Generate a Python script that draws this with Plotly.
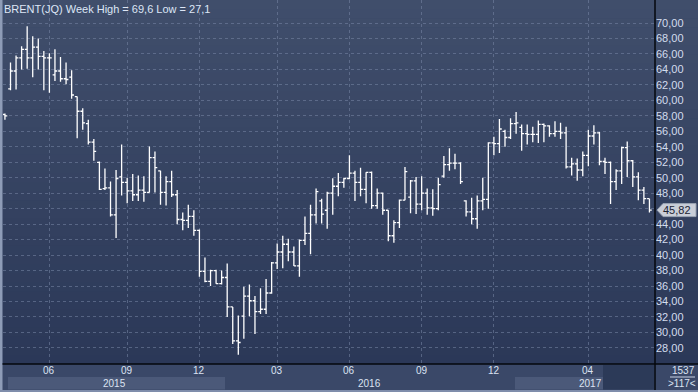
import plotly.graph_objects as go

# ---- data (weekly OHLC) ----
opens = [58.2, 61.5, 63.8, 65.5, 66.6, 65.5, 66.9, 65.7, 65.5, 63.3,
         63.8, 62.8, 63.0, 60.5, 58.6, 57.0, 54.6, 52.0, 48.6, 48.7,
         45.2, 50.1, 49.4, 48.3, 47.8, 48.4, 48.1, 52.6, 50.9, 48.1,
         49.5, 47.8, 44.6, 44.5, 45.0, 43.2, 37.9, 36.6, 38.0, 36.3,
         37.1, 33.3, 28.9, 32.1, 34.7, 34.1, 32.7, 33.0, 35.1, 39.0,
         40.4, 41.4, 40.4, 38.6, 41.9, 42.8, 45.2, 47.0, 45.8, 48.0,
         48.9, 49.4, 49.9, 50.6, 49.4, 48.5, 50.7, 46.4, 48.0, 45.8,
         42.5, 44.2, 47.1, 47.5, 49.6, 46.6, 48.0, 46.1, 46.0, 50.2,
         51.7, 51.9, 51.9, 47.0, 45.6, 44.7, 47.0, 47.2, 54.5, 54.4,
         56.0, 55.2, 57.0, 56.5, 55.7, 55.6, 55.6, 56.9, 56.7, 55.7,
         56.0, 55.8, 51.4, 51.8, 51.0, 52.9, 55.4, 55.8, 52.1, 52.0,
         49.5, 50.9, 53.9, 52.2, 50.1, 48.4, 47.3]
highs = [58.3, 64.9, 65.8, 67.0, 69.6, 68.3, 68.0, 66.4, 66.1, 66.6,
         65.6, 64.9, 63.9, 60.5, 59.0, 57.5, 55.0, 52.1, 51.2, 49.5,
         51.0, 54.3, 50.0, 50.5, 50.3, 50.2, 54.05, 53.4, 50.9, 50.2,
         50.9, 48.4, 45.5, 46.5, 45.8, 43.3, 39.7, 38.1, 38.1, 38.0,
         38.9, 33.3, 32.2, 35.9, 36.2, 34.7, 35.7, 36.9, 39.1, 41.5,
         42.5, 42.1, 41.1, 42.0, 45.0, 46.5, 48.6, 47.3, 48.2, 49.95,
         50.6, 50.0, 52.9, 50.9, 51.3, 50.7, 50.8, 48.6, 48.1, 45.8,
         44.5, 47.2, 51.4, 49.7, 50.1, 50.2, 48.6, 48.5, 50.0, 52.8,
         53.8, 53.1, 52.0, 47.1, 47.4, 47.7, 50.0, 54.6, 55.3, 57.6,
         56.2, 57.7, 58.5, 56.9, 56.9, 56.6, 57.4, 57.0, 56.8, 57.3,
         57.1, 56.6, 52.6, 52.5, 53.4, 56.2, 56.8, 55.9, 52.6, 52.1,
         51.1, 54.0, 54.7, 52.3, 50.7, 48.8, 47.3]
lows = [57.5, 61.3, 61.4, 64.0, 64.1, 63.0, 64.0, 61.3, 61.0, 62.5,
        62.4, 62.1, 60.2, 55.1, 56.2, 54.3, 52.2, 48.4, 48.4, 45.0,
        42.2, 47.7, 46.7, 47.0, 47.0, 46.9, 48.1, 48.1, 46.5, 46.4,
        47.5, 44.0, 43.2, 43.5, 42.5, 37.2, 36.5, 36.0, 36.3, 36.2,
        32.0, 28.5, 27.1, 29.2, 32.1, 29.8, 32.4, 32.4, 35.0, 38.2,
        38.3, 39.2, 38.6, 37.2, 41.3, 40.1, 44.1, 44.1, 43.4, 45.2,
        47.6, 48.7, 49.8, 47.0, 47.6, 46.7, 46.0, 46.0, 45.2, 41.8,
        41.6, 43.5, 47.1, 45.4, 45.3, 45.8, 45.2, 45.1, 45.8, 50.0,
        50.9, 51.1, 49.2, 45.0, 44.0, 43.4, 45.8, 46.0, 52.9, 53.2,
        54.0, 55.0, 55.7, 53.5, 54.3, 54.6, 54.5, 54.6, 55.3, 55.3,
        55.0, 51.2, 50.3, 49.6, 50.2, 51.5, 54.3, 51.6, 50.5, 46.6,
        48.4, 49.2, 50.1, 48.8, 47.1, 46.6, 45.5]
closes = [58.0, 63.8, 65.5, 66.6, 65.5, 66.9, 65.7, 65.5, 65.5, 63.8,
          62.8, 62.7, 60.7, 58.6, 57.1, 54.6, 53.4, 48.5, 48.7, 45.2,
          49.9, 49.4, 48.3, 47.8, 48.4, 48.1, 52.6, 51.3, 48.1, 49.5,
          47.8, 44.6, 44.5, 45.0, 43.2, 37.9, 36.6, 38.0, 36.3, 37.1,
          33.3, 28.9, 28.7, 34.7, 34.1, 32.7, 33.0, 35.1, 39.0, 40.4,
          41.4, 40.4, 38.6, 41.9, 42.8, 45.2, 48.2, 45.3, 48.0, 48.9,
          49.4, 49.9, 50.6, 49.4, 48.5, 50.7, 46.4, 48.0, 45.8, 42.5,
          44.2, 47.1, 50.8, 49.6, 46.6, 48.0, 46.1, 46.0, 49.1, 51.7,
          51.9, 51.9, 49.5, 45.6, 44.7, 47.0, 47.2, 54.5, 54.4, 56.3,
          55.2, 57.0, 57.1, 55.7, 55.6, 55.6, 56.9, 56.7, 55.7, 56.0,
          55.8, 51.4, 51.8, 51.0, 52.9, 55.4, 55.8, 52.1, 52.0, 49.5,
          50.9, 53.9, 52.2, 50.1, 48.4, 47.3, 45.82]
weeks = list(range(len(closes)))

y_ticks = [28, 30, 32, 34, 36, 38, 40, 42, 44, 46, 48, 50, 52, 54, 56, 58,
           60, 62, 64, 66, 68, 70]
month_pos = [8, 22, 35, 49, 62, 75, 88, 105]
month_labels = ["06", "09", "12", "03", "06", "09", "12", "04"]
year_labels = ["2015", "2016", "2017"]
year_pos = [19.7, 65.6, 105.4]
title_text = "BRENT(JQ) Week High = 69,6 Low = 27,1"
last_label = "45,82"
last_value = 45.82
corner_top = "1537"
corner_bottom = ">117<"

# ---- geometry helpers (pixels -> paper) ----
W, H = 698, 392
ML, MR, MT, MB = 3, 43, 0, 28
PW, PH = W - ML - MR, H - MT - MB


def px(x):
    return (x - ML) / PW


def py(y):
    return (H - MB - y) / PH


FONT = "Liberation Sans, Arial, sans-serif"

fig = go.Figure()
fig.add_trace(go.Ohlc(
    x=weeks, open=opens, high=highs, low=lows, close=closes,
    increasing=dict(line=dict(color="#ffffff", width=1.3)),
    decreasing=dict(line=dict(color="#ffffff", width=1.3)),
    tickwidth=0.42, hoverinfo="skip", showlegend=False,
))

shapes = []
# vertical gradient background (whole window)
n = 40
top = (64, 78, 107)
bot = (43, 56, 88)
for k in range(n):
    t = k / (n - 1)
    c = tuple(int(round(top[j] + (bot[j] - top[j]) * t)) for j in range(3))
    y0 = k * (H - MB) / n
    y1 = (k + 1) * (H - MB) / n + 0.5
    shapes.append(dict(type="rect", xref="paper", yref="paper",
                       x0=px(0), x1=px(W), y0=py(y1), y1=py(y0),
                       fillcolor="rgb(%d,%d,%d)" % c, line=dict(width=0),
                       layer="below"))
# bottom axis bar
shapes.append(dict(type="rect", xref="paper", yref="paper",
                   x0=px(0), x1=px(W), y0=py(H), y1=py(364),
                   fillcolor="#3a4868", line=dict(width=0), layer="below"))
# year bands
for a, b in [(8, 225), (515, 603)]:
    shapes.append(dict(type="rect", xref="paper", yref="paper",
                       x0=px(a), x1=px(b), y0=py(389.5), y1=py(377),
                       fillcolor="#4b5979", line=dict(width=0), layer="below"))
# dark box at the right end of the time bar
shapes.append(dict(type="rect", xref="paper", yref="paper",
                   x0=px(603), x1=px(654), y0=py(389.5), y1=py(365),
                   fillcolor="#2c3a58", line=dict(width=0), layer="below"))
# left and bottom window borders
shapes.append(dict(type="rect", xref="paper", yref="paper",
                   x0=px(0), x1=px(2.5), y0=py(H), y1=py(0),
                   fillcolor="#8e9cb7", line=dict(width=0), layer="above"))
shapes.append(dict(type="rect", xref="paper", yref="paper",
                   x0=px(0), x1=px(W), y0=py(H), y1=py(390),
                   fillcolor="#7f8dab", line=dict(width=0), layer="above"))
# separators
shapes.append(dict(type="line", xref="paper", yref="paper",
                   x0=px(655), x1=px(655), y0=py(390), y1=py(0),
                   line=dict(color="#05070c", width=1.5), layer="above"))
shapes.append(dict(type="line", xref="paper", yref="paper",
                   x0=px(2.5), x1=px(W), y0=py(364), y1=py(364),
                   line=dict(color="#05070c", width=1.5), layer="above"))
# corner divider
shapes.append(dict(type="line", xref="paper", yref="paper",
                   x0=px(670), x1=px(695), y0=py(377), y1=py(377),
                   line=dict(color="#c8d2e4", width=1), layer="above"))
# last-value marker
hh = 6.5 / (PH / (72.98 - 25.92))
shapes.append(dict(type="path", xref="paper", yref="y",
                   path="M %f,%f L %f,%f L %f,%f L %f,%f L %f,%f Z" % (
                       px(657), last_value,
                       px(663), last_value + hh,
                       px(696), last_value + hh,
                       px(696), last_value - hh,
                       px(663), last_value - hh),
                   fillcolor="#c9ced8", line=dict(color="#9aa3b3", width=1),
                   layer="above"))

annotations = []
annotations.append(dict(text=title_text, xref="paper", yref="paper",
                        x=px(2), y=py(1), xanchor="left", yanchor="top",
                        showarrow=False,
                        font=dict(family=FONT, size=11, color="#dde6f6")))
for pos, lab in zip(month_pos, month_labels):
    annotations.append(dict(text=lab, xref="x", yref="paper", x=pos,
                            y=py(370.5), xanchor="center", yanchor="middle",
                            showarrow=False,
                            font=dict(family=FONT, size=10, color="#dbe3f2")))
for pos, lab in zip(year_pos, year_labels):
    annotations.append(dict(text=lab, xref="x", yref="paper", x=pos,
                            y=py(383), xanchor="center", yanchor="middle",
                            showarrow=False,
                            font=dict(family=FONT, size=10, color="#dbe3f2")))
annotations.append(dict(text=corner_top, xref="paper", yref="paper",
                        x=px(683), y=py(370), xanchor="center",
                        yanchor="middle", showarrow=False,
                        font=dict(family=FONT, size=10, color="#dbe3f2")))
annotations.append(dict(text=corner_bottom, xref="paper", yref="paper",
                        x=px(682), y=py(383.5), xanchor="center",
                        yanchor="middle", showarrow=False,
                        font=dict(family=FONT, size=10, color="#dbe3f2")))
annotations.append(dict(text=last_label, xref="paper", yref="y",
                        x=px(661), y=last_value, xanchor="left",
                        yanchor="middle", showarrow=False,
                        font=dict(family=FONT, size=11, color="#1c2333")))

tick_text = [("%.2f" % v).replace(".", ",") if v != 46 else "" for v in y_ticks]

fig.update_layout(
    width=W, height=H,
    margin=dict(l=ML, r=MR, t=MT, b=MB, pad=0),
    paper_bgcolor="#33415f", plot_bgcolor="rgba(0,0,0,0)",
    shapes=shapes, annotations=annotations,
    showlegend=False,
    xaxis=dict(range=[-0.35, 117.0], tickvals=month_pos,
               showticklabels=False, ticks="", showgrid=True,
               gridcolor="rgba(120,135,165,0.55)", griddash="3px,3px",
               gridwidth=1, zeroline=False, showline=False,
               rangeslider=dict(visible=False), fixedrange=True),
    yaxis=dict(range=[25.92, 72.98], side="right", tickvals=y_ticks,
               ticktext=tick_text, ticks="", showgrid=True,
               gridcolor="rgba(120,135,165,0.55)", griddash="3px,3px",
               gridwidth=1, zeroline=False, showline=False,
               tickfont=dict(family=FONT, size=11, color="#d3dcee"),
               fixedrange=True),
)

fig.write_html(
    "out.html",
    config=dict(displayModeBar=False),
    post_script="document.body.style.margin='0';document.body.style.padding='0';"
                "document.body.style.overflow='hidden';",
)
